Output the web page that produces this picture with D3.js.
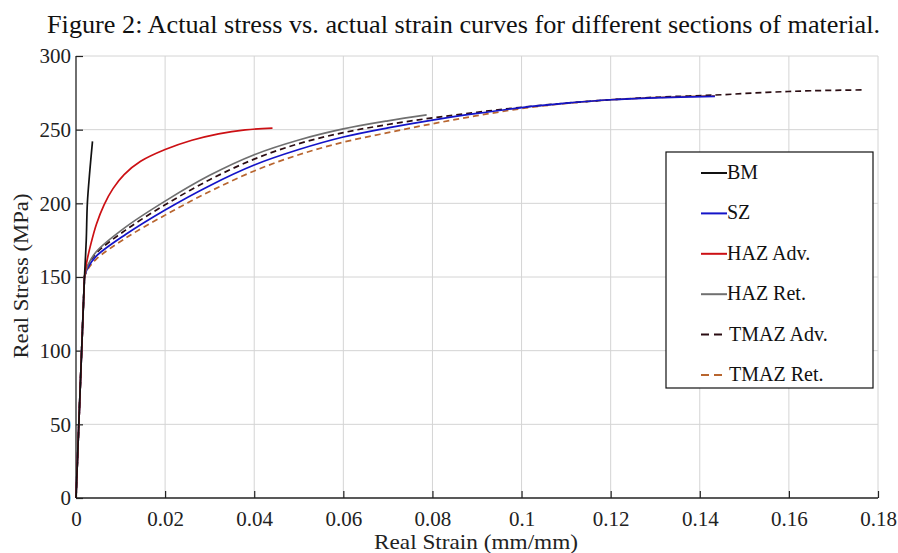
<!DOCTYPE html>
<html><head><meta charset="utf-8">
<script src="https://cdn.jsdelivr.net/npm/d3@7"></script>
<style>
html,body{margin:0;padding:0;background:#fff;}
</style></head>
<body><svg id="c" width="898" height="553"></svg>
<script>
// ---- data ----
const xTicks = [0,0.02,0.04,0.06,0.08,0.1,0.12,0.14,0.16,0.18];
const yTicks = [0,50,100,150,200,250,300];
const seriesNames = ["BM","SZ","HAZ Adv.","HAZ Ret.","TMAZ Adv.","TMAZ Ret."];
const bm = [[0,0],[0.0019,150],[0.0023,175],[0.00255,200],[0.0031,222],[0.0037,242]];
const sz = [[0,0],[0.0019,150],[0.0026,156],[0.0045,164],[0.0112,179],[0.02,195.5],[0.03,212],[0.04,226],[0.05,236.5],[0.06,245],[0.07,251.2],[0.08,256.5],[0.09,261],[0.1,265],[0.11,268],[0.12,270.3],[0.13,271.6],[0.1434,272.6]];
const hazAdv = [[0,0],[0.0019,150],[0.0024,160],[0.0033,172],[0.0046,186],[0.0063,199],[0.0083,210],[0.0108,219.5],[0.0145,228.5],[0.02,236.5],[0.026,242.8],[0.032,247.2],[0.038,249.9],[0.0441,251]];
const hazRet = [[0,0],[0.0019,150],[0.0026,157.5],[0.0045,167],[0.0112,184],[0.02,201.5],[0.03,219],[0.04,233],[0.05,243],[0.06,250.5],[0.07,256],[0.0787,260]];
const tmazAdv = [[0,0],[0.0019,150],[0.0026,157],[0.0045,166],[0.0112,182],[0.02,199],[0.03,216],[0.04,230],[0.05,240.5],[0.06,248],[0.07,253.5],[0.08,258],[0.09,261.8],[0.1,265.2],[0.11,268],[0.12,270.3],[0.13,272],[0.1434,273.5],[0.155,275.3],[0.165,276.4],[0.177,277]];
const tmazRet = [[0,0],[0.0019,150],[0.0026,155],[0.0045,162],[0.0112,176.5],[0.02,192],[0.03,208],[0.04,222],[0.05,233],[0.06,241.5],[0.07,248],[0.08,254],[0.09,259.5],[0.1,264.3],[0.11,267.8],[0.12,270.3],[0.13,271.8],[0.1434,273]];

const seriesData = [bm, sz, hazAdv, hazRet, tmazAdv, tmazRet];
const colors = ["#111111","#1414c8","#cc1014","#707070","#2a0c12","#b8652f"];
const dashes = [null,null,null,null,"6,4","6,4"];
const drawOrder = [5,4,1,3,2,0];
const FONT = "'Liberation Serif','Times New Roman',Times,serif";

// ---- layout ----
const svg = d3.select("#c");
const L=76, R=878, T=56, B=498;
const x = d3.scaleLinear().domain([0,0.18]).range([L,R]);
const y = d3.scaleLinear().domain([0,300]).range([B,T]);

// title
svg.append("text").attr("x",47).attr("y",33).style("font-family",FONT).style("font-size","26px")
  .attr("fill","#111")
  .attr("textLength",833).attr("lengthAdjust","spacingAndGlyphs")
  .text("Figure 2: Actual stress vs. actual strain curves for different sections of material.");

// grid
const g = svg.append("g");
g.selectAll(".vg").data(xTicks.slice(1)).enter().append("line")
  .attr("x1",d=>x(d)).attr("x2",d=>x(d)).attr("y1",T).attr("y2",B)
  .attr("stroke","#d4d4d4").attr("stroke-width",1);
g.selectAll(".hg").data(yTicks.slice(1)).enter().append("line")
  .attr("x1",L).attr("x2",R).attr("y1",d=>y(d)).attr("y2",d=>y(d))
  .attr("stroke","#d4d4d4").attr("stroke-width",1);

// axes
const xAxis = d3.axisBottom(x).tickValues(xTicks).tickSize(-7).tickPadding(13)
  .tickFormat(d=>d===0?"0":String(+d.toFixed(2)));
const yAxis = d3.axisLeft(y).tickValues(yTicks).tickSize(-7).tickPadding(5)
  .tickFormat(d=>String(d));
const gx = svg.append("g").attr("transform",`translate(0,${B})`).call(xAxis);
const gy = svg.append("g").attr("transform",`translate(${L},0)`).call(yAxis);
[gx,gy].forEach(a=>{
  a.attr("font-family",null).attr("font-size",null);
  a.select(".domain").attr("stroke","#222").attr("stroke-width",1.3);
  a.selectAll(".tick line").attr("stroke","#222").attr("stroke-width",1.2);
  a.selectAll(".tick text").style("font-family",FONT).style("font-size","21px").attr("fill","#222");
});
gy.select(".domain").attr("d",`M0,${T}V${B}`);
gx.select(".domain").attr("d",`M${L},0H${R}`);

// curves: linear elastic part, smooth plastic part
const lin = d3.line().x(d=>x(d[0])).y(d=>y(d[1]));
const smooth = d3.line().x(d=>x(d[0])).y(d=>y(d[1])).curve(d3.curveCatmullRom.alpha(0.5));
function pathFor(data){
  const p1 = lin(data.slice(0,2));
  const p2 = smooth(data.slice(1));
  return p1 + "L" + p2.slice(1);
}
drawOrder.forEach(i=>{
  svg.append("path").attr("d",pathFor(seriesData[i]))
    .attr("fill","none").attr("stroke",colors[i]).attr("stroke-width",1.7)
    .attr("stroke-linejoin","round")
    .attr("stroke-dasharray",dashes[i]);
});

// axis labels
svg.append("text").attr("x",476).attr("y",549).attr("text-anchor","middle")
  .style("font-family",FONT).style("font-size","21px").attr("fill","#222")
  .attr("textLength",204).attr("lengthAdjust","spacingAndGlyphs").text("Real Strain (mm/mm)");
svg.append("text").attr("transform","translate(28,276) rotate(-90)").attr("text-anchor","middle")
  .style("font-family",FONT).style("font-size","21px").attr("fill","#222")
  .attr("textLength",165).attr("lengthAdjust","spacingAndGlyphs").text("Real Stress (MPa)");

// legend
const lg = svg.append("g");
lg.append("rect").attr("x",666).attr("y",152).attr("width",207).attr("height",236)
  .attr("fill","#fff").attr("stroke","#111").attr("stroke-width",1.2);
seriesNames.forEach((n,i)=>{
  const yy = 173 + i*40.4;
  const dashed = !!dashes[i];
  lg.append("line").attr("x1",701).attr("x2",dashed?722:727).attr("y1",yy).attr("y2",yy)
    .attr("stroke",colors[i]).attr("stroke-width",2)
    .attr("stroke-dasharray",dashed?"8,5":null);
  lg.append("text").attr("x",dashed?729:727).attr("y",yy+6)
    .style("font-family",FONT).style("font-size","20px").attr("fill","#111").text(n);
});
</script></body></html>
